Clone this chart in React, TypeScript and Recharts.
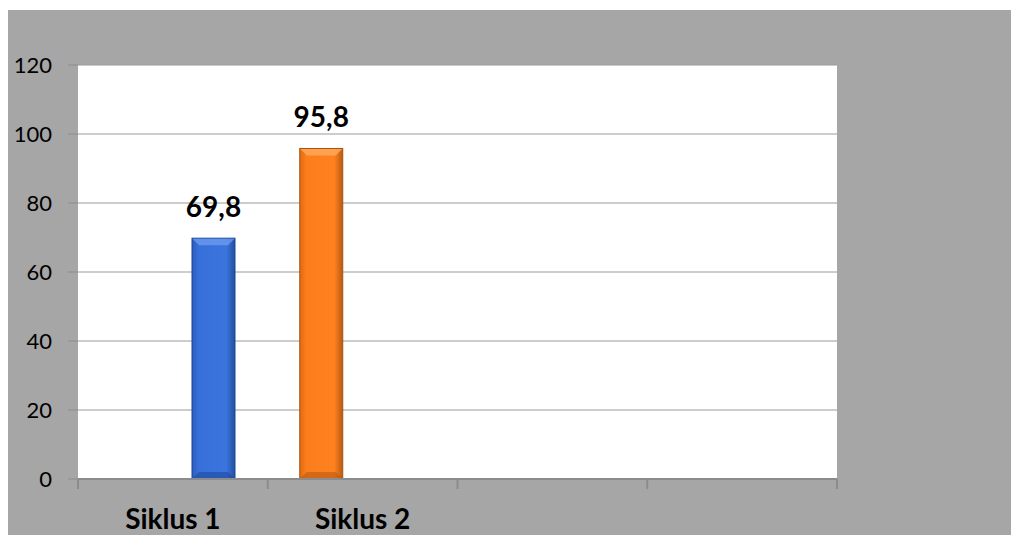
import React from 'react';
import { BarChart, Bar, XAxis, YAxis, CartesianGrid, LabelList } from 'recharts';

const categories = ['Siklus 1', 'Siklus 2', '', ''];
const siklus1Values: (number | null)[] = [69.8, null, null, null];
const siklus2Values: (number | null)[] = [null, 95.8, null, null];
const yTicks = [0, 20, 40, 60, 80, 100, 120];
const boundaryTicks = [0, 1, 2, 3, 4];

const data = categories.map((name, i) => ({
  name,
  idx: i,
  s1: siklus1Values[i],
  s2: siklus2Values[i],
}));

const fmt = (v: any) => (v == null ? '' : String(v).replace('.', ','));

const makeShape = (gradId: string, stroke: string, bevel: string, bottom: string) => (props: any) => {
  const { x, y, width, height } = props;
  if (height == null || height <= 0 || width == null) return <g />;
  const b = Math.min(7, width / 5, height / 3);
  return (
    <g>
      <rect x={x} y={y} width={width} height={height} fill={`url(#${gradId})`} stroke={stroke} strokeWidth={1} />
      <polygon
        points={`${x + 0.5},${y + 0.5} ${x + width - 0.5},${y + 0.5} ${x + width - b},${y + b} ${x + b},${y + b}`}
        fill={bevel}
        opacity={0.8}
      />
      <polygon
        points={`${x + 0.5},${y + height - 0.5} ${x + width - 0.5},${y + height - 0.5} ${x + width - b},${y + height - b} ${x + b},${y + height - b}`}
        fill={bottom}
        opacity={0.6}
      />
    </g>
  );
};

const blueShape = makeShape('gBlue', '#1d4694', '#6b9af0', '#1f4a9e');
const orangeShape = makeShape('gOrange', '#a9500f', '#ffaa5c', '#b85a12');

const EmptyTick = () => <g />;

export default function App() {
  return (
    <div
      style={{
        position: 'absolute',
        left: 8,
        top: 10,
        width: 1003,
        height: 525,
        background: '#a6a6a6',
        fontFamily: 'Lato, "Open Sans", sans-serif',
      }}
    >
      <BarChart
        width={1003}
        height={525}
        data={data}
        margin={{ top: 55, right: 174, left: 0, bottom: 54 }}
        barSize={43}
        barGap={39}
      >
        <defs>
          <linearGradient id="gBlue" x1="0" y1="0" x2="1" y2="0">
            <stop offset="0%" stopColor="#2a5cc0" />
            <stop offset="15%" stopColor="#3670d8" />
            <stop offset="80%" stopColor="#3a74dc" />
            <stop offset="100%" stopColor="#21509f" />
          </linearGradient>
          <linearGradient id="gOrange" x1="0" y1="0" x2="1" y2="0">
            <stop offset="0%" stopColor="#e26a10" />
            <stop offset="15%" stopColor="#fb7d1c" />
            <stop offset="80%" stopColor="#ff821f" />
            <stop offset="100%" stopColor="#b85a12" />
          </linearGradient>
        </defs>
        <CartesianGrid xAxisId="cat" vertical={false} fill="#ffffff" stroke="#9a9a9a" strokeWidth={1} />
        <XAxis
          xAxisId="cat"
          dataKey="name"
          tickLine={false}
          axisLine={false}
          tickSize={10}
          tickMargin={19}
          height={1}
          interval={0}
          tick={{ fill: '#000000', fontSize: 28, fontWeight: 700 }}
        />
        <XAxis
          xAxisId="b"
          dataKey="idx"
          type="number"
          domain={[0, 4]}
          ticks={boundaryTicks}
          tick={EmptyTick}
          tickLine={{ stroke: '#8c8c8c', strokeWidth: 2 }}
          tickSize={10}
          axisLine={{ stroke: '#8c8c8c', strokeWidth: 2 }}
          height={1}
        />
        <YAxis
          domain={[0, 120]}
          ticks={yTicks}
          width={70}
          axisLine={false}
          tickLine={{ stroke: '#8c8c8c', strokeWidth: 1 }}
          tickSize={10}
          tickMargin={16}
          tick={{ fill: '#000000', fontSize: 22 }}
        />
        <Bar xAxisId="cat" dataKey="s2" isAnimationActive={false} shape={orangeShape}>
          <LabelList
            dataKey="s2"
            position="top"
            offset={21}
            formatter={fmt}
            style={{ fill: '#000000', fontSize: 28, fontWeight: 700 }}
          />
        </Bar>
        <Bar xAxisId="cat" dataKey="s1" isAnimationActive={false} shape={blueShape}>
          <LabelList
            dataKey="s1"
            position="top"
            offset={21}
            formatter={fmt}
            style={{ fill: '#000000', fontSize: 28, fontWeight: 700 }}
          />
        </Bar>
      </BarChart>
    </div>
  );
}
